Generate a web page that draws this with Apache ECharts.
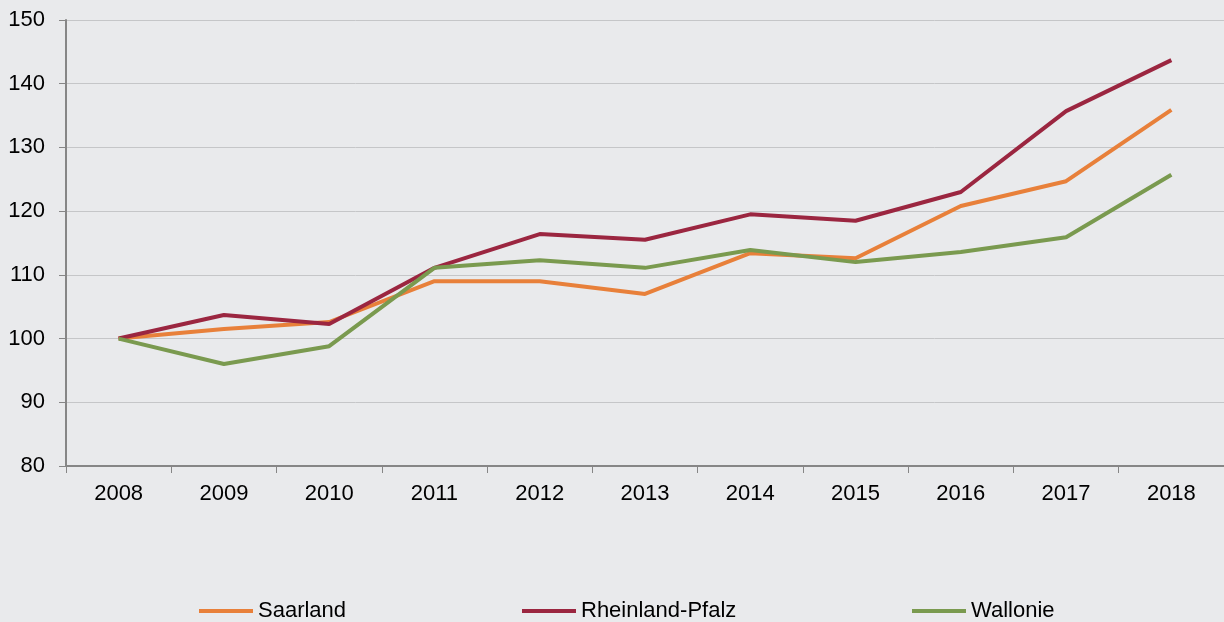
<!DOCTYPE html>
<html><head><meta charset="utf-8">
<script src="https://cdn.jsdelivr.net/npm/echarts@6/dist/echarts.min.js"></script>
<style>html,body{margin:0;padding:0;background:#e9eaec;}#c{width:1224px;height:622px;}</style>
</head><body><div id="c"></div>
<script>
const years = ['2008','2009','2010','2011','2012','2013','2014','2015','2016','2017','2018'];
const saarland = [100, 101.5, 102.6, 109.0, 109.0, 107.0, 113.4, 112.6, 120.8, 124.7, 135.9];
const rheinlandPfalz = [100, 103.7, 102.3, 111.1, 116.4, 115.5, 119.5, 118.5, 123.0, 135.7, 143.7];
const wallonie = [100, 96.0, 98.8, 111.1, 112.3, 111.1, 113.9, 112.0, 113.6, 115.9, 125.7];
const seriesNames = ['Saarland', 'Rheinland-Pfalz', 'Wallonie'];
const colors = ['#e8803a', '#9b2640', '#7a9a4f'];
const dataSets = [saarland, rheinlandPfalz, wallonie];
const legendLeft = [199, 522, 912];

const chart = echarts.init(document.getElementById('c'));
const font = 'Liberation Sans, Arial, sans-serif';
chart.setOption({
  backgroundColor: '#e9eaec',
  animation: false,
  textStyle: { fontFamily: font },
  grid: { left: 66, right: 0, top: 20, bottom: 156 },
  legend: seriesNames.map((n, i) => ({
    data: [n], left: legendLeft[i], top: 600, itemWidth: 54, itemHeight: 4, itemGap: 0,
    icon: 'rect', padding: 0,
    textStyle: { fontSize: 22, color: '#000', fontFamily: font, padding: [0, 0, 0, 0] }
  })),
  xAxis: {
    type: 'category', data: years, boundaryGap: true,
    axisLine: { lineStyle: { color: '#868686', width: 2 } },
    axisTick: { show: true, length: 7, lineStyle: { color: '#868686', width: 1 } },
    axisLabel: { fontSize: 22, color: '#000', margin: 17, fontFamily: font },
    splitLine: { show: false }
  },
  yAxis: {
    type: 'value', min: 80, max: 150, interval: 10,
    axisLine: { show: true, lineStyle: { color: '#868686', width: 2 } },
    axisTick: { show: true, length: 7, inside: false, lineStyle: { color: '#868686', width: 1 } },
    axisLabel: { fontSize: 22, color: '#000', margin: 21, fontFamily: font, lineHeight: 26, verticalAlign: 'middle', padding: [3, 0, 0, 0] },
    splitLine: { show: true, lineStyle: { color: '#c5c6c8', width: 1 } }
  },
  series: seriesNames.map((n, i) => ({
    name: n, type: 'line', data: dataSets[i], showSymbol: false, symbol: 'none',
    lineStyle: { color: colors[i], width: 4 }, itemStyle: { color: colors[i] }
  }))
});
</script></body></html>
